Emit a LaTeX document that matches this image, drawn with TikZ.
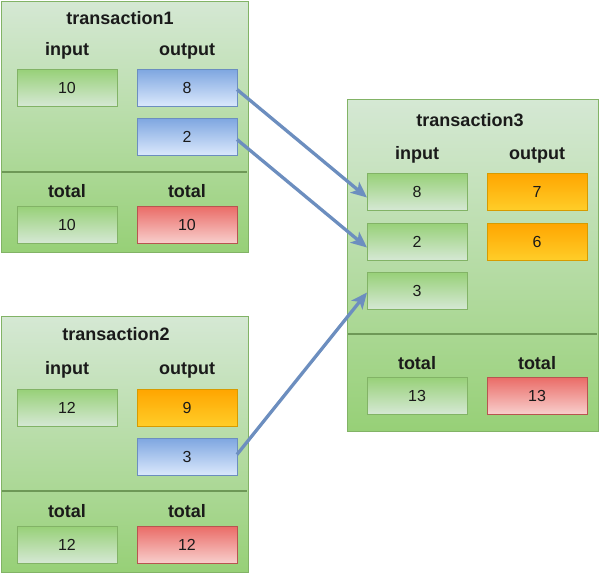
\documentclass[tikz,border=0pt]{standalone}
\usepackage{fontspec}
\setmainfont{Liberation Sans}
\usetikzlibrary{arrows.meta}
\definecolor{gborder}{HTML}{82B366}
\definecolor{glight}{HTML}{D5E8D4}
\definecolor{gdark}{HTML}{97D077}
\definecolor{bborder}{HTML}{6C8EBF}
\definecolor{blight}{HTML}{DAE8FC}
\definecolor{bdark}{HTML}{7EA6E0}
\definecolor{oborder}{HTML}{D79B00}
\definecolor{otop}{HTML}{FFA500}
\definecolor{obot}{HTML}{FFCD28}
\definecolor{rborder}{HTML}{B85450}
\definecolor{rtop}{HTML}{EA6B66}
\definecolor{rbot}{HTML}{F8CECC}
\definecolor{arrowblue}{HTML}{6C8EBF}
\definecolor{txt}{HTML}{1A1A1A}
\tikzset{
  container/.style={draw=gborder, line width=1pt, top color=glight, bottom color=gdark, inner sep=0pt, outer sep=0pt},
  cell/.style={rectangle, line width=1pt, minimum width=100pt, minimum height=37pt, inner sep=0pt, outer sep=0pt, anchor=north west, font=\fontsize{16}{18}\selectfont, text=txt},
  gcell/.style={cell, draw=gborder, top color=gdark, bottom color=glight},
  bcell/.style={cell, draw=bborder, top color=bdark, bottom color=blight},
  ocell/.style={cell, draw=oborder, top color=otop, bottom color=obot},
  rcell/.style={cell, draw=rborder, top color=rtop, bottom color=rbot},
  lbl/.style={font=\bfseries\fontsize{18}{20}\selectfont, text=txt, inner sep=0pt},
  divider/.style={draw=gborder!85!black, line width=2pt},
  arr/.style={draw=arrowblue, line width=3.3pt, -{Stealth[length=16pt, width=14pt, inset=4pt]}}
}
\begin{document}
\begin{tikzpicture}[x=1pt, y=-1pt]
\useasboundingbox (0,0) rectangle (600,574);
% containers
\path[container] (1,1) rectangle (248,252);
\path[container] (1,316) rectangle (248,572);
\path[container] (347,99) rectangle (598,431);
\draw[divider] (2,172) -- (247,172);
\draw[divider] (2,491) -- (247,491);
\draw[divider] (348,334) -- (597,334);
% transaction1
\node[lbl] (t1title) at (120,18) {transaction1};
\node[lbl] (t1in) at (67,51) {input};
\node[lbl] (t1out) at (187,51) {output};
\node[gcell] (t1i10) at (17,69) {10};
\node[bcell] (t1o8) at (137,69) {8};
\node[bcell] (t1o2) at (137,118) {2};
\node[lbl] (t1tin) at (67,191) {total};
\node[lbl] (t1tout) at (187,191) {total};
\node[gcell] (t1ti) at (17,206) {10};
\node[rcell] (t1to) at (137,206) {10};
% transaction2
\node[lbl] (t2title) at (116,334) {transaction2};
\node[lbl] (t2in) at (67,370) {input};
\node[lbl] (t2out) at (187,370) {output};
\node[gcell] (t2i12) at (17,389) {12};
\node[ocell] (t2o9) at (137,389) {9};
\node[bcell] (t2o3) at (137,438) {3};
\node[lbl] (t2tin) at (67,511) {total};
\node[lbl] (t2tout) at (187,511) {total};
\node[gcell] (t2ti) at (17,526) {12};
\node[rcell] (t2to) at (137,526) {12};
% transaction3
\node[lbl] (t3title) at (470,120) {transaction3};
\node[lbl] (t3in) at (417,155) {input};
\node[lbl] (t3out) at (537,155) {output};
\node[gcell] (t3i8) at (367,173) {8};
\node[ocell] (t3o7) at (487,173) {7};
\node[gcell] (t3i2) at (367,223) {2};
\node[ocell] (t3o6) at (487,223) {6};
\node[gcell] (t3i3) at (367,272) {3};
\node[lbl] (t3tin) at (417,363) {total};
\node[lbl] (t3tout) at (537,363) {total};
\node[gcell] (t3ti) at (367,377) {13};
\node[rcell] (t3to) at (487,377) {13};
% arrows
\draw[arr] ([yshift=-2pt]t1o8.east) -- ([yshift=-6pt]t3i8.west);
\draw[arr] ([yshift=-3pt]t1o2.east) -- ([yshift=-6pt]t3i2.west);
\draw[arr] ([yshift=2pt]t2o3.east) -- ([yshift=-2pt]t3i3.west);
\end{tikzpicture}
\end{document}
